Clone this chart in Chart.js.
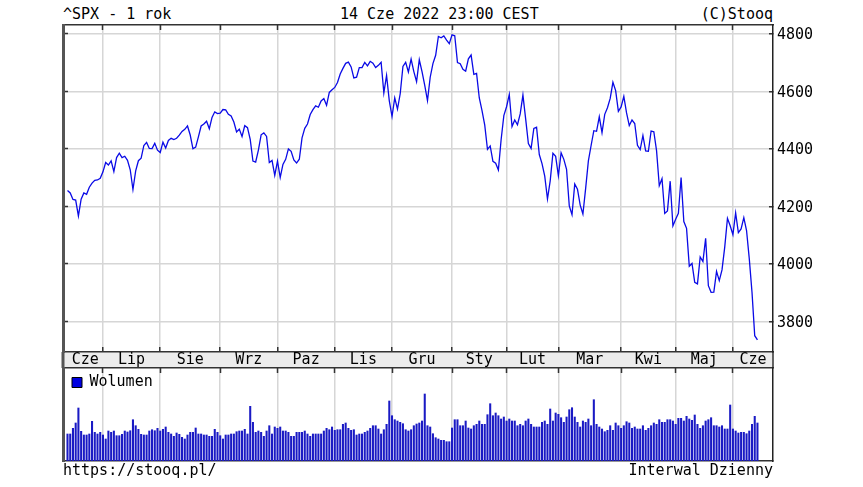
<!doctype html>
<html lang="pl">
<head>
<meta charset="UTF-8" />
<title>^SPX - 1 rok</title>
<script src="https://cdn.jsdelivr.net/npm/chart.js"></script>
<style>
  html, body { margin: 0; padding: 0; background: #fff; }
  body { width: 863px; height: 487px; position: relative; overflow: hidden;
         font: 15px 'DejaVu Sans Mono', monospace; color: #000; }
  .txt { position: absolute; line-height: 15px; white-space: pre; }
  #main { position: absolute; left: 0; top: 0; width: 863px; height: 368px; }
  #vol { position: absolute; left: 0; top: 360px; width: 863px; height: 103px; }
</style>
</head>
<body>
<div class="txt" style="left:63px;top:7px">^SPX - 1 rok</div>
<div class="txt" style="left:340px;top:7px">14 Cze 2022 23:00 CEST</div>
<div class="txt" style="right:90px;top:7px">(C)Stooq</div>
<canvas id="main" width="863" height="368"></canvas>
<canvas id="vol" width="863" height="103"></canvas>
<div class="txt" style="left:63px;top:463px">https://stooq.pl/</div>
<div class="txt" style="right:90px;top:463px">Interwal Dzienny</div>
<script>
// months shown on the axis and number of sessions in each (Jun 14 2021 - Jun 14 2022)
const monthNames = ['Cze', 'Lip', 'Sie', 'Wrz', 'Paz', 'Lis', 'Gru', 'Sty', 'Lut', 'Mar', 'Kwi', 'Maj', 'Cze'];
const monthSessions = [13, 21, 22, 21, 21, 21, 22, 20, 19, 23, 20, 21, 10];

// daily closes
const closes = [
  // Cze 2021
  4255.15, 4246.59, 4223.70, 4221.86, 4166.45, 4224.79, 4246.44, 4241.84, 4266.49, 4280.70, 4290.61, 4291.80, 4297.50,
  // Lip
  4319.94, 4352.34, 4343.54, 4358.13, 4320.82, 4369.55, 4384.63, 4369.21, 4374.30, 4360.03, 4327.16, 4258.49, 4323.06,
  4358.69, 4367.48, 4411.79, 4422.30, 4401.46, 4400.64, 4419.15, 4395.26,
  // Sie
  4387.16, 4423.15, 4402.66, 4429.10, 4436.52, 4432.35, 4436.75, 4447.70, 4460.83, 4468.00, 4479.71, 4448.08, 4400.27,
  4405.80, 4441.67, 4479.53, 4486.23, 4496.19, 4470.00, 4509.37, 4528.79, 4522.68,
  // Wrz
  4524.09, 4536.95, 4535.43, 4520.03, 4514.07, 4493.28, 4458.58, 4468.73, 4443.05, 4480.70, 4473.75, 4432.99, 4357.73,
  4354.19, 4395.64, 4448.98, 4455.48, 4443.11, 4352.63, 4359.46, 4307.54,
  // Paz
  4357.04, 4300.46, 4345.72, 4363.55, 4399.76, 4391.34, 4361.19, 4350.65, 4363.80, 4438.26, 4471.37, 4486.46, 4519.63,
  4536.19, 4549.78, 4544.90, 4566.48, 4574.79, 4551.68, 4596.42, 4605.38,
  // Lis
  4613.67, 4630.65, 4660.57, 4680.06, 4697.53, 4701.70, 4685.25, 4646.71, 4649.27, 4682.85, 4682.80, 4700.90, 4688.67,
  4704.54, 4697.96, 4682.94, 4690.70, 4701.46, 4594.62, 4655.27, 4567.00,
  // Gru
  4513.04, 4577.10, 4538.43, 4591.67, 4686.75, 4701.21, 4667.45, 4712.02, 4668.97, 4634.09, 4709.85, 4668.67, 4620.64,
  4568.02, 4649.23, 4696.56, 4725.79, 4791.19, 4786.35, 4793.06, 4778.73, 4766.18,
  // Sty 2022
  4796.56, 4793.54, 4700.58, 4696.05, 4677.03, 4670.29, 4713.07, 4726.35, 4659.03, 4662.85, 4577.11, 4532.76, 4482.73,
  4397.94, 4410.13, 4356.45, 4349.93, 4326.51, 4431.85, 4515.55,
  // Lut
  4546.54, 4589.38, 4477.44, 4500.53, 4483.87, 4521.54, 4587.18, 4504.08, 4418.64, 4401.67, 4471.07, 4475.01, 4380.26,
  4348.87, 4304.76, 4225.50, 4288.70, 4384.65, 4373.94,
  // Mar
  4306.26, 4386.54, 4363.49, 4328.87, 4201.09, 4170.70, 4277.88, 4259.52, 4204.31, 4173.11, 4262.45, 4357.86, 4411.67,
  4463.12, 4461.18, 4511.61, 4456.24, 4520.16, 4543.06, 4575.52, 4631.60, 4602.45, 4530.41,
  // Kwi
  4545.86, 4582.64, 4525.12, 4481.15, 4500.21, 4488.28, 4412.53, 4397.45, 4446.59, 4392.59, 4391.69, 4462.21, 4459.45,
  4393.66, 4271.78, 4296.12, 4175.20, 4183.96, 4287.50, 4131.93,
  // Maj
  4155.38, 4175.48, 4300.17, 4146.87, 4123.34, 3991.24, 4001.05, 3935.18, 3930.08, 4023.89, 4008.01, 4088.85, 3923.68,
  3900.79, 3901.36, 3973.75, 3941.48, 3978.73, 4057.84, 4158.24, 4132.15,
  // Cze
  4101.23, 4176.82, 4108.54, 4121.43, 4160.68, 4115.77, 4017.82, 3900.86, 3749.63, 3735.48
];

// daily volume (relative units)
const volumes = [
  270, 270, 327, 380, 530, 297, 260, 260, 270, 397, 287, 270, 287, 260, 220, 300, 287, 300, 253, 253,
  267, 300, 290, 303, 413, 353, 317, 267, 260, 260, 300, 313, 303, 327, 300, 317, 340, 287, 270, 247,
  280, 267, 237, 220, 260, 287, 287, 330, 270, 270, 260, 260, 247, 247, 317, 287, 253, 220, 260, 260,
  270, 270, 293, 300, 300, 317, 270, 547, 387, 287, 300, 287, 247, 300, 353, 270, 340, 327, 340, 300,
  300, 287, 247, 247, 287, 287, 287, 300, 270, 247, 270, 270, 270, 270, 300, 327, 313, 340, 307, 313,
  313, 367, 380, 327, 307, 313, 260, 270, 270, 287, 300, 327, 353, 353, 320, 270, 313, 367, 600, 453,
  413, 400, 387, 373, 313, 300, 313, 353, 370, 380, 400, 670, 353, 340, 273, 233, 220, 207, 207, 193,
  193, 330, 413, 413, 353, 353, 400, 330, 320, 353, 367, 400, 367, 367, 463, 573, 453, 480, 453, 420,
  440, 400, 420, 400, 400, 353, 367, 353, 400, 420, 367, 340, 340, 340, 387, 400, 367, 520, 400, 480,
  467, 433, 387, 440, 513, 533, 440, 387, 340, 400, 387, 420, 353, 613, 367, 340, 320, 293, 307, 353,
  307, 380, 353, 327, 353, 393, 380, 327, 340, 320, 320, 353, 307, 327, 353, 380, 367, 413, 387, 387,
  413, 413, 400, 367, 427, 427, 400, 447, 420, 407, 460, 367, 327, 353, 400, 413, 433, 353, 353, 340,
  353, 320, 320, 560, 320, 300, 280, 287, 287, 273, 300, 367, 447, 380
];

const priceTicks = [3800, 4000, 4200, 4400, 4600, 4800];

const X_MIN = -1.65, X_MAX = 258.7;
const Y_MIN = 3693, Y_MAX = 4831;
const V_MAX = 930;

// first session of each month -> grid lines; label in the middle of each month
const monthStart = [];
let acc = 0;
monthSessions.forEach(n => { monthStart.push(acc); acc += n; });
const boundaries = monthStart.slice(1);
const labelPos = monthStart.map((s, i) => (s + (i + 1 < monthStart.length ? monthStart[i + 1] : X_MAX)) / 2);

const FONT = { family: "'DejaVu Sans Mono', monospace", size: 15, lineHeight: 1 };
const FRAME = '#333';
const GRID = '#d6d6d6';
Chart.defaults.color = '#000';
Chart.defaults.font.family = FONT.family;

const setTicks = vals => scale => { scale.ticks = vals.map(v => ({ value: v })); };
const fixHeight = h => scale => { scale.height = h; scale.paddingLeft = 0; scale.paddingRight = 0; };
const fixWidth = w => scale => { scale.width = w; scale.paddingTop = 0; scale.paddingBottom = 0; };

// grey band behind the month names
const bandPlugin = {
  id: 'band',
  beforeDraw(chart) {
    const s = chart.scales.x, c = chart.ctx;
    c.save();
    c.fillStyle = '#ececec';
    c.fillRect(s.left, s.top, s.width, s.height);
    c.strokeStyle = FRAME;
    c.lineWidth = 1.5;
    c.beginPath(); c.moveTo(s.right, s.top); c.lineTo(s.right, s.bottom); c.stroke();
    c.strokeStyle = '#555';
    c.lineWidth = 3;
    c.beginPath(); c.moveTo(s.left, s.top); c.lineTo(s.left, s.bottom); c.stroke();
    c.restore();
  }
};

new Chart(document.getElementById('main'), {
  type: 'line',
  data: {
    datasets: [{
      data: closes.map((c, i) => ({ x: i, y: c })),
      borderColor: '#0a0ae6',
      borderWidth: 1.3,
      pointRadius: 0,
      tension: 0,
      xAxisID: 'x',
      yAxisID: 'y'
    }]
  },
  options: {
    responsive: false,
    animation: false,
    events: [],
    layout: { padding: { left: 63, top: 25, right: 0, bottom: 0 } },
    plugins: { legend: { display: false }, tooltip: { enabled: false } },
    scales: {
      x: {
        type: 'linear', position: 'bottom', weight: 1, min: X_MIN, max: X_MAX,
        afterBuildTicks: setTicks(labelPos),
        afterFit: fixHeight(16),
        grid: { display: false, drawTicks: false, tickLength: 0 },
        border: { display: true, color: FRAME, width: 1.5 },
        ticks: { autoSkip: false, maxRotation: 0, padding: 1, font: FONT, callback: (v, i) => monthNames[i] }
      },
      xg: {
        type: 'linear', position: 'bottom', weight: 0, min: X_MIN, max: X_MAX,
        afterBuildTicks: setTicks(boundaries),
        afterFit: fixHeight(0),
        grid: { color: GRID, lineWidth: 1.5, tickColor: FRAME, tickWidth: 1.5, tickLength: -5 },
        border: { display: false },
        ticks: { display: false }
      },
      xt: {
        type: 'linear', position: 'top', min: X_MIN, max: X_MAX,
        afterBuildTicks: setTicks(boundaries),
        afterFit: fixHeight(0),
        grid: { drawOnChartArea: false, tickColor: FRAME, tickWidth: 1.5, tickLength: -5 },
        border: { color: FRAME, width: 1.5 },
        ticks: { display: false }
      },
      y: {
        position: 'right', min: Y_MIN, max: Y_MAX,
        afterBuildTicks: setTicks(priceTicks),
        afterFit: fixWidth(90),
        grid: { color: GRID, lineWidth: 1.5, tickColor: FRAME, tickWidth: 1.5, tickLength: -4 },
        border: { color: '#222', width: 1.5 },
        ticks: { padding: 8, labelOffset: 1.5, font: FONT, callback: v => String(v) }
      },
      yl: {
        position: 'left', min: Y_MIN, max: Y_MAX,
        afterBuildTicks: setTicks(priceTicks),
        afterFit: fixWidth(0),
        grid: { drawOnChartArea: false, tickColor: FRAME, tickWidth: 1.5, tickLength: -5 },
        border: { color: '#555', width: 3 },
        ticks: { display: false }
      }
    }
  },
  plugins: [bandPlugin]
});

new Chart(document.getElementById('vol'), {
  type: 'bar',
  data: {
    datasets: [{
      label: 'Wolumen',
      data: volumes.map((v, i) => ({ x: i, y: v })),
      backgroundColor: '#1a1ac4',
      borderWidth: 0,
      barThickness: 1.4,
      xAxisID: 'x',
      yAxisID: 'y'
    }]
  },
  options: {
    responsive: false,
    animation: false,
    events: [],
    layout: { padding: { left: 63, top: 8, right: 0, bottom: 0 } },
    plugins: {
      tooltip: { enabled: false },
      legend: {
        position: 'chartArea',
        align: 'start',
        title: { display: true, text: ' ', padding: 0, font: { size: 5, lineHeight: 1.2 } },
        labels: {
          boxWidth: 10, boxHeight: 10, padding: 9,
          font: FONT,
          generateLabels: () => [{ text: 'Wolumen', fillStyle: '#0000e0', strokeStyle: '#000', lineWidth: 1, hidden: false, datasetIndex: 0 }]
        }
      }
    },
    scales: {
      x: {
        type: 'linear', position: 'bottom', offset: false, min: X_MIN, max: X_MAX,
        afterBuildTicks: setTicks(boundaries),
        afterFit: fixHeight(2),
        grid: { offset: false, color: GRID, lineWidth: 1.5, drawTicks: false },
        border: { color: FRAME, width: 1.5 },
        ticks: { display: false }
      },
      xt: {
        type: 'linear', position: 'top', offset: false, min: X_MIN, max: X_MAX,
        afterBuildTicks: setTicks(boundaries),
        afterFit: fixHeight(0),
        grid: { offset: false, drawOnChartArea: false, tickColor: FRAME, tickWidth: 1.5, tickLength: -5 },
        border: { color: FRAME, width: 1.5 },
        ticks: { display: false }
      },
      y: {
        position: 'right', min: 0, max: V_MAX,
        afterFit: fixWidth(90),
        grid: { display: false },
        border: { color: '#222', width: 1.5 },
        ticks: { display: false }
      },
      yl: {
        position: 'left', min: 0, max: V_MAX,
        afterFit: fixWidth(0),
        grid: { display: false },
        border: { color: '#555', width: 3 },
        ticks: { display: false }
      }
    }
  }
});
</script>
</body>
</html>
